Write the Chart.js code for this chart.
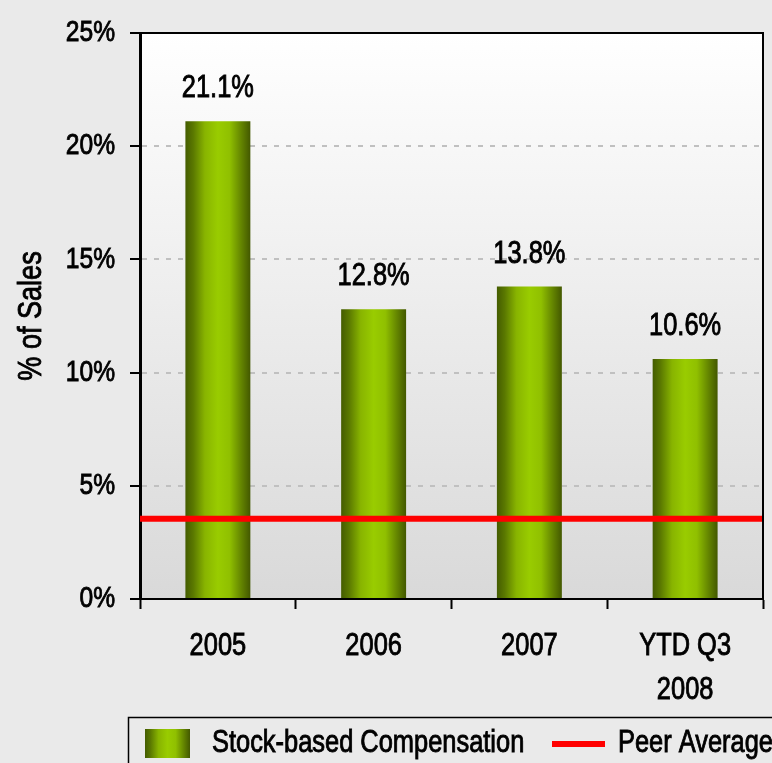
<!DOCTYPE html>
<html>
<head>
<meta charset="utf-8">
<script src="https://cdn.jsdelivr.net/npm/chart.js@4.4.0/dist/chart.umd.min.js"></script>
<style>
  html, body { margin: 0; padding: 0; background: #eaeaea; }
  #wrap { width: 772px; height: 763px; }
</style>
</head>
<body>
<div id="wrap"><canvas id="myChart"></canvas></div>
<script>
const categories = ['2005', '2006', '2007', ['YTD Q3', '2008']];
const stockComp = [21.1, 12.8, 13.8, 10.6];
const peerAverage = 3.55;
const yTicks = [0, 5, 10, 15, 20, 25];

const FONT = '"Liberation Sans", Arial, sans-serif';
const NARROW = 0.82; // the original uses a narrow face, squeeze all text to match
const BAR_PCT = 0.417;

const ctx = document.getElementById('myChart');

// every text drawn on this canvas (ticks, title, labels) is squeezed horizontally
// and given a hairline outline so it keeps the weight of the original
const c2d = ctx.getContext('2d');
const plainFillText = c2d.fillText;
c2d.fillText = function (text, x, y, maxWidth) {
  this.save();
  this.translate(x, y);
  this.scale(NARROW, 1);
  if (maxWidth === undefined) {
    plainFillText.call(this, text, 0, 0);
  } else {
    plainFillText.call(this, text, 0, 0, maxWidth / NARROW);
  }
  this.strokeStyle = this.fillStyle;
  this.lineWidth = 0.9;
  this.setLineDash([]);
  this.strokeText(text, 0, 0);
  this.restore();
};

function greenGradient(c, x0, x1) {
  const g = c.createLinearGradient(x0, 0, x1, 0);
  g.addColorStop(0, '#445c00');
  g.addColorStop(0.12, '#5a7800');
  g.addColorStop(0.3, '#88b400');
  g.addColorStop(0.5, '#99cc00');
  g.addColorStop(0.68, '#90c000');
  g.addColorStop(0.85, '#668800');
  g.addColorStop(1, '#435800');
  return g;
}

function barFill(context) {
  const chart = context.chart;
  const xs = chart.scales.x;
  if (!chart.chartArea || !xs || context.dataIndex === undefined) return '#88b400';
  const cx = xs.getPixelForValue(context.dataIndex);
  const w = xs.width / categories.length * BAR_PCT;
  return greenGradient(chart.ctx, cx - w / 2, cx + w / 2);
}

// plot background + frame
const plotBg = {
  id: 'plotBg',
  beforeDraw(chart) {
    const {ctx, chartArea: a} = chart;
    ctx.save();
    const g = ctx.createLinearGradient(0, a.top, 0, a.bottom);
    g.addColorStop(0, '#ffffff');
    g.addColorStop(1, '#d9d9d9');
    ctx.fillStyle = g;
    ctx.fillRect(a.left, a.top, a.right - a.left, a.bottom - a.top);
    ctx.restore();
  },
  afterDraw(chart) {
    const {ctx, chartArea: a} = chart;
    ctx.save();
    ctx.strokeStyle = '#000';
    ctx.lineWidth = 2;
    ctx.beginPath();
    ctx.moveTo(a.left, a.top);
    ctx.lineTo(a.right, a.top);
    ctx.lineTo(a.right, a.bottom);
    ctx.stroke();
    ctx.restore();
  }
};

// value labels above the bars
const barLabels = {
  id: 'barLabels',
  afterDatasetsDraw(chart) {
    const ctx = chart.ctx;
    const meta = chart.getDatasetMeta(0);
    ctx.save();
    ctx.font = '31px ' + FONT;
    ctx.fillStyle = '#000';
    ctx.textAlign = 'center';
    ctx.textBaseline = 'alphabetic';
    meta.data.forEach((bar, i) => {
      ctx.fillText(stockComp[i].toFixed(1) + '%', bar.x, bar.y - 24);
    });
    ctx.restore();
  }
};

// boxed legend at the bottom
const boxLegend = {
  id: 'boxLegend',
  afterDraw(chart) {
    const ctx = chart.ctx;
    const ds = chart.data.datasets;
    ctx.save();
    ctx.strokeStyle = '#000';
    ctx.lineWidth = 1.5;
    ctx.strokeRect(128.5, 717.5, 700, 100);
    ctx.fillStyle = greenGradient(ctx, 145, 190);
    ctx.fillRect(145, 729, 45, 29);
    ctx.font = '31px ' + FONT;
    ctx.fillStyle = '#000';
    ctx.textAlign = 'left';
    ctx.textBaseline = 'alphabetic';
    ctx.fillText(ds[0].label, 212, 752);
    ctx.strokeStyle = ds[1].borderColor;
    ctx.lineWidth = 6;
    ctx.beginPath();
    ctx.moveTo(552, 744);
    ctx.lineTo(605, 744);
    ctx.stroke();
    ctx.fillText(ds[1].label, 618, 752);
    ctx.restore();
  }
};

const data = {
  labels: categories,
  datasets: [
    {
      type: 'bar',
      label: 'Stock-based Compensation',
      data: stockComp,
      backgroundColor: barFill,
      barPercentage: BAR_PCT,
      categoryPercentage: 1,
      grouped: false,
      order: 2
    },
    {
      type: 'line',
      label: 'Peer Average',
      xAxisID: 'x2',
      data: [{x: 0, y: peerAverage}, {x: 1, y: peerAverage}],
      borderColor: '#ff0000',
      borderWidth: 6,
      pointRadius: 0,
      fill: false,
      order: 1
    }
  ]
};

const config = {
  type: 'bar',
  data: data,
  options: {
    responsive: true,
    maintainAspectRatio: false,
    animation: false,
    layout: { padding: { top: 23, right: 9, bottom: 50, left: 0 } },
    plugins: { legend: { display: false }, tooltip: { enabled: false } },
    scales: {
      x: {
        type: 'category',
        offset: true,
        grid: { offset: true, drawOnChartArea: false, tickLength: 10, tickColor: '#000', tickWidth: 2 },
        border: { display: true, color: '#000', width: 2 },
        ticks: { color: '#000', font: { family: FONT, size: 31, lineHeight: 1.42 }, padding: 15, maxRotation: 0 },
        afterFit(scale) { scale.height = 114; }
      },
      x2: {
        type: 'linear',
        display: false,
        min: 0,
        max: 1,
        offset: false
      },
      y: {
        min: 0,
        max: 25,
        afterBuildTicks(scale) { scale.ticks = yTicks.map(v => ({value: v})); },
        grid: {
          color: '#c0c0c0',
          lineWidth: 2,
          tickLength: 10,
          tickColor: '#000',
          tickWidth: 2,
          tickBorderDash: []
        },
        border: { display: true, color: '#000', width: 3, dash: [5, 7] },
        ticks: { color: '#000', font: { family: FONT, size: 30 }, padding: 15, callback: v => v + '%' },
        title: { display: true, text: '% of Sales', color: '#000', font: { family: FONT, size: 33 }, padding: { top: 12, bottom: 0 } },
        afterFit(scale) { scale.width = 140; }
      }
    }
  },
  plugins: [plotBg, barLabels, boxLegend]
};

const peerChart = new Chart(ctx, config);
</script>
</body>
</html>
